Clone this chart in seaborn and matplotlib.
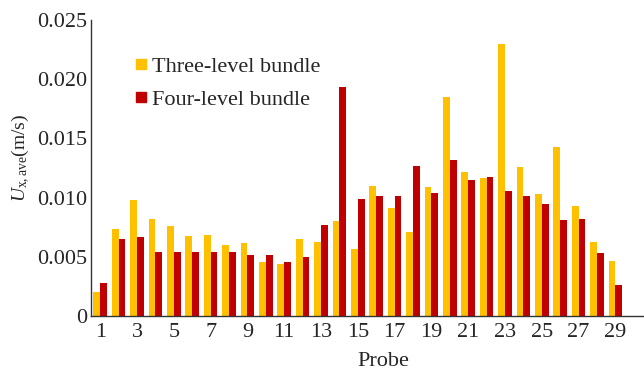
import numpy as np
import pandas as pd
import matplotlib
matplotlib.use("Agg")
import matplotlib.pyplot as plt
from matplotlib.lines import Line2D
import seaborn as sns

probes = list(range(1, 30))
three_level = [2.05, 7.32, 9.80, 8.17, 7.60, 6.76, 6.84, 5.97, 6.14, 4.59,
               4.39, 6.48, 6.25, 8.00, 5.69, 10.98, 9.15, 7.12, 10.87, 18.47,
               12.14, 11.68, 22.95, 12.61, 10.33, 14.27, 9.32, 6.25, 4.62]
four_level = [2.76, 6.53, 6.65, 5.38, 5.38, 5.38, 5.38, 5.43, 5.18, 5.12,
              4.56, 4.98, 7.66, 19.30, 9.88, 10.10, 10.15, 12.64, 10.42, 13.15,
              11.49, 11.74, 10.58, 10.16, 9.49, 8.08, 8.19, 5.35, 2.59]
series_names = ["Three-level bundle", "Four-level bundle"]
colors = ["#FFC000", "#C00000"]
ytick_vals = [0, 0.005, 0.010, 0.015, 0.020, 0.025]
ytick_labels = ["0", "0.005", "0.010", "0.015", "0.020", "0.025"]
xtick_vals = list(range(1, 30, 2))

df = pd.DataFrame({
    "Probe": probes * 2,
    "value": [v / 1000 for v in three_level] + [v / 1000 for v in four_level],
    "series": [series_names[0]] * len(probes) + [series_names[1]] * len(probes),
})

sns.set_style("white")
plt.rcParams["font.family"] = ["Liberation Serif", "DejaVu Serif"]
plt.rcParams["mathtext.fontset"] = "custom"
plt.rcParams["mathtext.rm"] = "Liberation Serif"
plt.rcParams["mathtext.it"] = "Liberation Serif:italic"

fig = plt.figure(figsize=(6.44, 3.72), dpi=100)
ax = fig.add_axes([91 / 644, 1 - 316 / 372, (643 - 91) / 644, (316 - 20) / 372])

sns.barplot(data=df, x="Probe", y="value", hue="series", native_scale=True,
            palette=colors, hue_order=series_names, width=0.74, saturation=1,
            dodge=True, legend=False, ax=ax, linewidth=0)

ax.set_xlim(0.5, 30.5)
ax.set_ylim(0, 0.025)
ax.set_yticks(ytick_vals)
ax.set_yticklabels(ytick_labels, fontsize=16)
ax.set_xticks(xtick_vals)
ax.set_xticklabels([str(v) for v in xtick_vals], fontsize=16)
ax.tick_params(axis="x", length=0, pad=5)
ax.set_xticks(np.arange(2.5, 31, 2), minor=True)
ax.tick_params(axis="x", which="minor", direction="in", length=4, color="#333333", width=1)
ax.tick_params(axis="y", direction="in", length=4, color="#333333", width=1, pad=3)

for s in ["top", "right"]:
    ax.spines[s].set_visible(False)
for s in ["left", "bottom"]:
    ax.spines[s].set_color("#333333")
    ax.spines[s].set_linewidth(1)

ax.set_xlabel("Probe", fontsize=16)
ax.xaxis.set_label_coords((383 - 91) / 552, -(362 - 316) / 296, transform=ax.transAxes)
ax.xaxis.label.set_va("center")
ax.set_ylabel(r"$U_{\rm x,ave}$(m/s)", fontsize=14)
ax.yaxis.set_label_coords(-(91 - 21) / 552, (316 - 158) / 296, transform=ax.transAxes)
ax.yaxis.label.set_va("center")

handles = [Line2D([0], [0], marker="s", linestyle="none", markersize=7,
                  markerfacecolor=c, markeredgecolor=c) for c in colors]
ax.legend(handles, series_names, loc="upper left", bbox_to_anchor=(0.062, 0.907),
          frameon=False, fontsize=16, handlelength=0.6, handletextpad=0.2,
          labelspacing=0.55, borderaxespad=0)

fig.savefig("out.png", dpi=100)
